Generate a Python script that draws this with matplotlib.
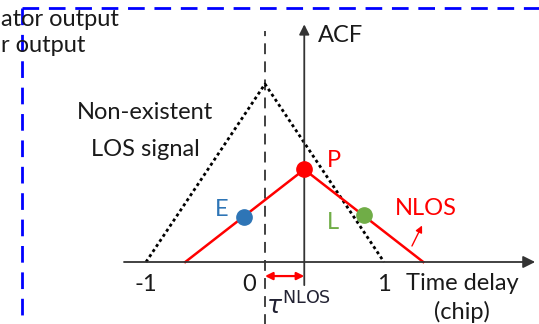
import matplotlib.pyplot as plt
import matplotlib
matplotlib.rcParams['font.family'] = ['Lato', 'DejaVu Sans']

# chart values (time delay in chip, ACF normalised to LOS peak)
tau_nlos = 0.33
los_x = [-1, 0, 1]
los_y = [0, 1, 0]
nlos_x = [-1 + tau_nlos, tau_nlos, 1 + tau_nlos]
nlos_y = [0, 0.52, 0]
pt_names = ['E', 'P', 'L']
pt_x = [-0.18, 0.33, 0.83]
pt_y = [0.255, 0.52, 0.265]
pt_colors = ['#2E75B6', '#FF0000', '#70AD47']
tick_vals = [-1, 0, 1]
tick_labels = ['-1', '0', '1']

fig = plt.figure(figsize=(5.39, 3.24), dpi=100)
ax = fig.add_axes([0, 0, 1, 1])
ax.set_xlim(-265 / 119, (539 - 265) / 119)
ax.set_ylim(-62 / 178, 262 / 178)
ax.axis('off')

fs = 17
tc = '#1a1a1a'

# blue dashed frame and legend text (cut at the left in the original)
ax.plot([22 / 539, 1], [1 - 8 / 324, 1 - 8 / 324], transform=ax.transAxes,
        color='#0000FF', lw=2, ls=(0, (6, 3.5)), clip_on=False)
ax.plot([22 / 539, 22 / 539], [1 - 8 / 324, 0], transform=ax.transAxes,
        color='#0000FF', lw=2, ls=(0, (6, 3.5)), clip_on=False)
ax.text(0.002, 1 - 19 / 324, 'ator output', transform=ax.transAxes,
        fontsize=fs, ha='left', va='center', color=tc)
ax.text(0.002, 1 - 46 / 324, 'r output', transform=ax.transAxes,
        fontsize=fs, ha='left', va='center', color=tc)

# axes arrows
ax.annotate('', xy=(2.27, 0), xytext=(-1.185, 0),
            arrowprops=dict(arrowstyle='-|>', color='#333333', lw=1.3,
                            mutation_scale=18, shrinkA=0, shrinkB=0))
ax.annotate('', xy=(tau_nlos, 1.335), xytext=(tau_nlos, -0.13),
            arrowprops=dict(arrowstyle='-|>', color='#333333', lw=1.3,
                            mutation_scale=15, shrinkA=0, shrinkB=0))
ax.plot([0, 0], [-0.36, 1.30], color='#333333', lw=1.3, ls=(0, (6, 4)))

# LOS (non-existent) and NLOS correlation triangles
ax.plot(los_x, los_y, color='black', lw=2.0, ls=(0, (1.1, 1.1)))
ax.plot(nlos_x, nlos_y, color='#FF0000', lw=1.8)
for n, x, y, c in zip(pt_names, pt_x, pt_y, pt_colors):
    ax.plot(x, y, 'o', color=c, ms=11, zorder=5)

ax.text(pt_x[0] - 0.18, pt_y[0] + 0.04, 'E', color=pt_colors[0], fontsize=fs,
        ha='center', va='center')
ax.text(pt_x[1] + 0.25, pt_y[1] + 0.05, 'P', color=pt_colors[1], fontsize=fs,
        ha='center', va='center')
ax.text(pt_x[2] - 0.26, pt_y[2] - 0.045, 'L', color=pt_colors[2], fontsize=fs,
        ha='center', va='center')

ax.text(1.353, 0.303, 'NLOS', color='#FF0000', fontsize=fs, ha='center', va='center')
ax.annotate('', xy=(1.32, 0.205), xytext=(1.235, 0.09),
            arrowprops=dict(arrowstyle='-|>', color='#FF0000', lw=1,
                            mutation_scale=10, shrinkA=0, shrinkB=0))

ax.text(-1.008, 0.84, 'Non-existent', fontsize=fs, ha='center', va='center',
        color=tc)
ax.text(-1.008, 0.63, 'LOS signal', fontsize=fs, ha='center', va='center',
        color=tc)
ax.text(0.445, 1.275, 'ACF', fontsize=fs, ha='left', va='center', color=tc)

# tick labels
for v, lab in zip(tick_vals, tick_labels):
    dx = -0.13 if v == 0 else 0.0
    ax.text(v + dx, -0.125, lab, fontsize=fs, ha='center', va='center',
            color=tc)
ax.text(1.655, -0.118, 'Time delay', fontsize=fs, ha='center', va='center',
        color=tc)
ax.text(1.655, -0.283, '(chip)', fontsize=fs, ha='center', va='center',
        color=tc)

# tau NLOS offset
ax.annotate('', xy=(tau_nlos, -0.079), xytext=(0, -0.079),
            arrowprops=dict(arrowstyle='<|-|>', color='#FF0000', lw=1.6,
                            mutation_scale=11, shrinkA=0, shrinkB=0))
ax.text(0.01, -0.24, r'$\tau^{\mathsf{NLOS}}$', fontsize=18, ha='left',
        va='center', color='#222233')

fig.savefig('out.png', dpi=100)
